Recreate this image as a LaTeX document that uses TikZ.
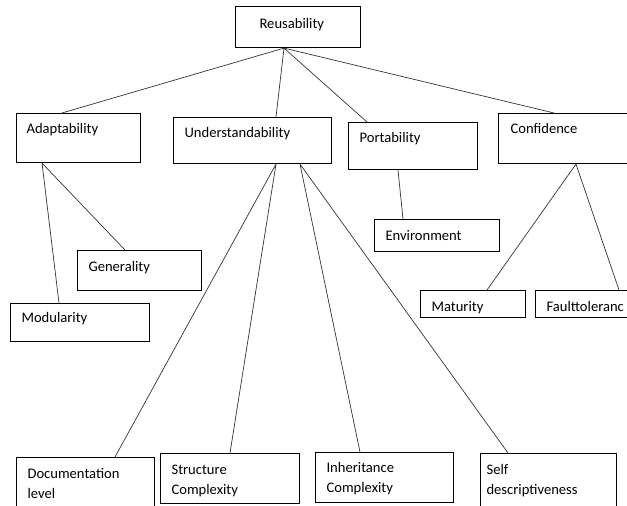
\documentclass[tikz,border=0pt]{standalone}
\usepackage{fontspec}
\setmainfont{Carlito}
\usetikzlibrary{calc}

\begin{document}
\begin{tikzpicture}
	[x=1pt,y=-1pt,
	item/.style={draw=black,line width=1.1pt,anchor=north west,align=left,inner ysep=0pt,
		font=\fontsize{14.6}{20}\selectfont},
	link/.style={draw=black!80,line width=0.7pt}]

	\useasboundingbox (0,0) rectangle (627,506);
	\clip (0,0) rectangle (627,506);

	% Draw the boxes
	\draw node at (235,6) [item,inner xsep=24pt,text width=77pt,text height=22pt,text depth=19pt](reuse){Reusability}
		node at (16,113) [item,inner xsep=10pt,text width=104pt,text height=20pt,text depth=29pt](adapt){Adaptability}
		node at (173,117) [item,inner xsep=11pt,text width=136pt,text height=20pt,text depth=26pt](under){Understandability}
		node at (348,122) [item,inner xsep=11pt,text width=107pt,text height=20pt,text depth=27pt](port){Portability}
		node at (498,113) [item,inner xsep=12pt,text width=116pt,text height=20pt,text depth=30pt](conf){Confidence}
		node at (374,219) [item,inner xsep=11pt,text width=103pt,text height=21pt,text depth=11pt](envir){Environment}
		node at (77,250) [item,inner xsep=11pt,text width=102pt,text height=21pt,text depth=19pt](gener){Generality}
		node at (10,303) [item,inner xsep=11pt,text width=117pt,text height=19pt,text depth=19pt](modul){Modularity}
		node at (420,290) [item,inner xsep=11pt,text width=83pt,text height=21pt,text depth=6pt](matur){Maturity}
		node at (535,290) [item,inner xsep=11pt,text width=108pt,text height=21pt,text depth=6pt](fault){Faulttoleranc}
		node at (16,457) [item,inner xsep=11pt,text width=116pt,text height=21pt,text depth=37pt](docu){Documentation\\level}
		node at (160,453) [item,inner xsep=11pt,text width=117pt,text height=21pt,text depth=29pt](struct){Structure\\Complexity}
		node at (315,452) [item,inner xsep=11pt,text width=116pt,text height=20pt,text depth=30pt](inher){Inheritance\\Complexity}
		node at (480,453) [item,inner xsep=6pt,text width=124pt,text height=21pt,text depth=41pt](selfd){Self\\descriptiveness};

	% Draw the links between the boxes
	\draw[link] ($(reuse.south west)+(49,0)$) --($(adapt.north west)+(46,0)$)
	            ($(reuse.south west)+(49,0)$) --($(under.north west)+(103,0)$)
	            ($(reuse.south west)+(49,0)$) --($(port.north west)+(19,0)$)
	            ($(reuse.south west)+(49,0)$) --($(conf.north west)+(56,0)$)
	            ($(adapt.south west)+(26,0)$) --($(modul.north west)+(49,0)$)
	            ($(adapt.south west)+(26,0)$) --($(gener.north west)+(48,0)$)
	            ($(under.south west)+(103,0)$) --($(docu.north west)+(99,0)$)
	            ($(under.south west)+(103,0)$) --($(struct.north west)+(70,0)$)
	            ($(under.south west)+(127,0)$) --($(inher.north west)+(45,0)$)
	            ($(under.south west)+(127,0)$) --($(selfd.north west)+(28,0)$)
	            ($(port.south west)+(50,0)$) --($(envir.north west)+(29,0)$)
	            ($(conf.south west)+(78,0)$) --($(matur.north west)+(67,0)$)
	            ($(conf.south west)+(78,0)$) --($(fault.north west)+(84,0)$);
\end{tikzpicture}
\end{document}
